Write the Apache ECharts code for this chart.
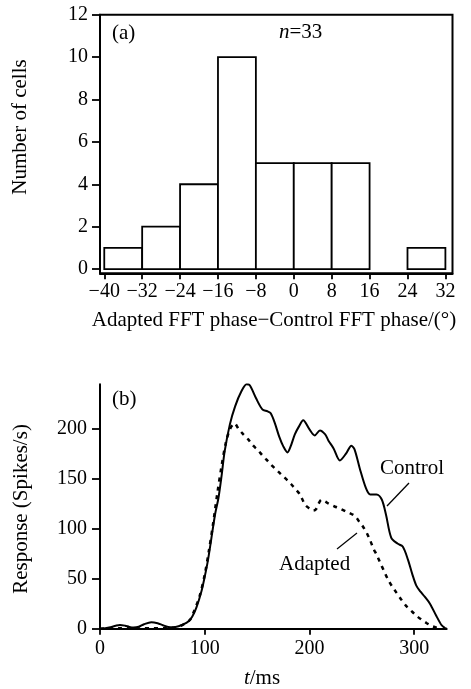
<!DOCTYPE html>
<html>
<head>
<meta charset="utf-8">
<script src="https://cdn.jsdelivr.net/npm/echarts@6/dist/echarts.min.js"></script>
<style>
  html, body { margin: 0; padding: 0; background: #fff; }
  #main { width: 471px; height: 689px; }
</style>
</head>
<body>
<div id="main"></div>
<script>
// panel (a): histogram of phase differences
var binStart = [-40, -32, -24, -16, -8, 0, 8, 16, 24];
var binWidth = 8;
var cellCounts = [1, 2, 4, 10, 5, 5, 5, 0, 1];
var phaseTicks = [-40, -32, -24, -16, -8, 0, 8, 16, 24, 32];
var cellTicks = [0, 2, 4, 6, 8, 10, 12];

// panel (b): response curves
var tControl = [0, 5, 10, 15, 19, 24, 28, 32, 37, 42, 49, 55, 60, 65, 70, 75, 80, 84, 88, 92, 97, 100, 103, 106, 110, 113, 116, 119, 124, 129, 135, 140, 143, 149, 155, 160, 163, 167, 171, 175, 179, 182, 186, 190, 194, 200, 205, 210, 215, 218, 223, 229, 235, 240, 243, 248, 254, 258, 264, 269, 273, 278, 284, 289, 294, 298, 302, 306, 310, 315, 321, 326, 329, 331];
var control = [0, 0.5, 1.5, 3, 3.8, 3, 1.8, 1.2, 2, 4.5, 6.5, 5.5, 3.5, 1.8, 1.5, 2.5, 4.5, 7, 12, 21, 38, 52, 68, 88, 115, 130, 152, 177, 204, 222, 237, 244, 243, 230, 219, 217, 215, 205, 192, 182, 176, 182, 194, 202, 208, 199, 193, 198, 194, 188, 180, 168, 175, 182.7, 179, 160, 140, 134, 134, 129, 114, 91, 85, 82, 69, 55, 43, 37, 32, 25, 13, 3.7, 1, 0];
var tAdapted = [0, 10, 20, 30, 40, 50, 60, 70, 76, 80, 86, 90, 95, 100, 104, 108, 112, 116, 120, 124, 128.5, 132, 136, 141.5, 146, 151, 155, 159, 163, 167, 171, 175, 179, 183, 187, 191, 195.6, 200, 203.6, 206, 208.3, 211.5, 215, 218, 224, 229, 235, 240, 244, 248, 251, 254.5, 258, 261, 264, 267, 271, 275, 279, 283, 287, 292, 297, 302, 307, 312, 316, 320, 324];
var adapted = [0, 0.3, 0.5, 0.3, 0.3, 0.5, 0.5, 1, 2.5, 4.5, 9, 18, 32, 54, 78, 105, 135, 162, 185, 199, 205, 200, 195, 189, 183, 178, 173, 168.7, 164, 160, 156, 152, 148, 143.7, 139, 134, 124, 120, 118, 119, 124, 128.7, 127, 125, 122, 120, 117, 114.5, 112, 106, 102, 96, 88, 80, 74, 67, 58, 49, 42, 36, 30, 23, 18, 13, 9, 5.5, 3, 1.5, 0.3];
var timeTicks = [0, 100, 200, 300];
var responseTicks = [0, 50, 100, 150, 200];

var serif = '"Liberation Serif", "DejaVu Serif", serif';

function pairs(xs, ys) {
    var out = [];
    for (var i = 0; i < xs.length; i++) out.push([xs[i], ys[i]]);
    return out;
}

var binData = [];
for (var i = 0; i < binStart.length; i++) {
    if (cellCounts[i] > 0) binData.push([binStart[i], binStart[i] + binWidth, cellCounts[i]]);
}

function minusFmt(v) {
    return v < 0 ? '\u2212' + (-v) : String(v);
}

var axisText = { color: '#000', fontSize: 20, fontFamily: serif };
var blackLine = { color: '#000', width: 1.8 };

var myChart = echarts.init(document.getElementById('main'));
myChart.setOption({
    backgroundColor: '#fff',
    animation: false,
    grid: [
        { left: 100, top: 14.7, width: 352.5, height: 258.6, show: true, borderColor: '#000', borderWidth: 2, backgroundColor: 'transparent' },
        { left: 100, top: 384.3, width: 346.7, height: 244.4 }
    ],
    xAxis: [{
        gridIndex: 0,
        type: 'value',
        min: -40.9,
        max: 33.5,
        axisLine: { onZero: false, lineStyle: { color: '#000', width: 2 } },
        axisTick: { customValues: phaseTicks, length: 6, lineStyle: blackLine },
        axisLabel: Object.assign({ customValues: phaseTicks, margin: 8, formatter: minusFmt }, axisText),
        splitLine: { show: false }
    }, {
        gridIndex: 1,
        type: 'value',
        min: 0,
        max: 331,
        axisLine: { onZero: false, lineStyle: { color: '#000', width: 2 } },
        axisTick: { customValues: timeTicks, length: 6, lineStyle: blackLine },
        axisLabel: Object.assign({ customValues: timeTicks, margin: 10 }, axisText),
        splitLine: { show: false }
    }],
    yAxis: [{
        gridIndex: 0,
        type: 'value',
        min: -0.2,
        max: 12,
        axisLine: { show: true, onZero: false, lineStyle: { color: '#000', width: 2 } },
        axisTick: { show: true, customValues: cellTicks, length: 8, lineStyle: blackLine },
        axisLabel: Object.assign({ customValues: cellTicks, margin: 12 }, axisText),
        splitLine: { show: false }
    }, {
        gridIndex: 1,
        type: 'value',
        min: 0,
        max: 244,
        axisLine: { show: true, onZero: false, lineStyle: { color: '#000', width: 2 } },
        axisTick: { show: true, customValues: responseTicks, length: 8, lineStyle: blackLine },
        axisLabel: Object.assign({ customValues: responseTicks, margin: 13 }, axisText),
        splitLine: { show: false }
    }],
    series: [{
        type: 'custom',
        xAxisIndex: 0,
        yAxisIndex: 0,
        data: binData,
        encode: { x: [0, 1], y: 2 },
        renderItem: function (params, api) {
            var a = api.coord([api.value(0), api.value(2)]);
            var b = api.coord([api.value(1), 0]);
            return {
                type: 'rect',
                shape: { x: a[0], y: a[1], width: b[0] - a[0], height: b[1] - a[1] },
                style: { fill: '#fff', stroke: '#000', lineWidth: 1.8 }
            };
        }
    }, {
        name: 'Control',
        type: 'line',
        xAxisIndex: 1,
        yAxisIndex: 1,
        data: pairs(tControl, control),
        showSymbol: false,
        smooth: 0.3,
        lineStyle: { color: '#000', width: 2 }
    }, {
        name: 'Adapted',
        type: 'line',
        xAxisIndex: 1,
        yAxisIndex: 1,
        data: pairs(tAdapted, adapted),
        showSymbol: false,
        smooth: 0.3,
        lineStyle: { color: '#000', width: 2.5, type: [4, 5] }
    }],
    graphic: [
        { type: 'text', x: 112, y: 33, style: { text: '(a)', font: '21px ' + serif, fill: '#000', verticalAlign: 'middle' } },
        { type: 'text', x: 279, y: 32, style: {
            text: '{i|n}=33', fill: '#000', verticalAlign: 'middle',
            rich: { i: { fontStyle: 'italic', fontSize: 21, fontFamily: serif } },
            fontSize: 21, fontFamily: serif
        } },
        { type: 'text', x: 20, y: 127, rotation: Math.PI / 2, style: { text: 'Number of cells', font: '21px ' + serif, fill: '#000', align: 'center', verticalAlign: 'middle' } },
        { type: 'text', x: 274, y: 320, style: { text: 'Adapted FFT phase\u2212Control FFT phase/(\u00b0)', font: '21px ' + serif, fill: '#000', align: 'center', verticalAlign: 'middle' } },
        { type: 'text', x: 112, y: 399, style: { text: '(b)', font: '21px ' + serif, fill: '#000', verticalAlign: 'middle' } },
        { type: 'text', x: 21, y: 509, rotation: Math.PI / 2, style: { text: 'Response (Spikes/s)', font: '21px ' + serif, fill: '#000', align: 'center', verticalAlign: 'middle' } },
        { type: 'text', x: 262, y: 678, style: {
            text: '{i|t}/ms', fill: '#000', align: 'center', verticalAlign: 'middle',
            rich: { i: { fontStyle: 'italic', fontSize: 21, fontFamily: serif } },
            fontSize: 21, fontFamily: serif
        } },
        { type: 'text', x: 380, y: 468, style: { text: 'Control', font: '21px ' + serif, fill: '#000', verticalAlign: 'middle' } },
        { type: 'line', shape: { x1: 409, y1: 483, x2: 387, y2: 506 }, style: { stroke: '#000', lineWidth: 1.3 } },
        { type: 'text', x: 279, y: 564, style: { text: 'Adapted', font: '21px ' + serif, fill: '#000', verticalAlign: 'middle' } },
        { type: 'line', shape: { x1: 357, y1: 533, x2: 337, y2: 549 }, style: { stroke: '#000', lineWidth: 1.3 } }
    ]
});
</script>
</body>
</html>
